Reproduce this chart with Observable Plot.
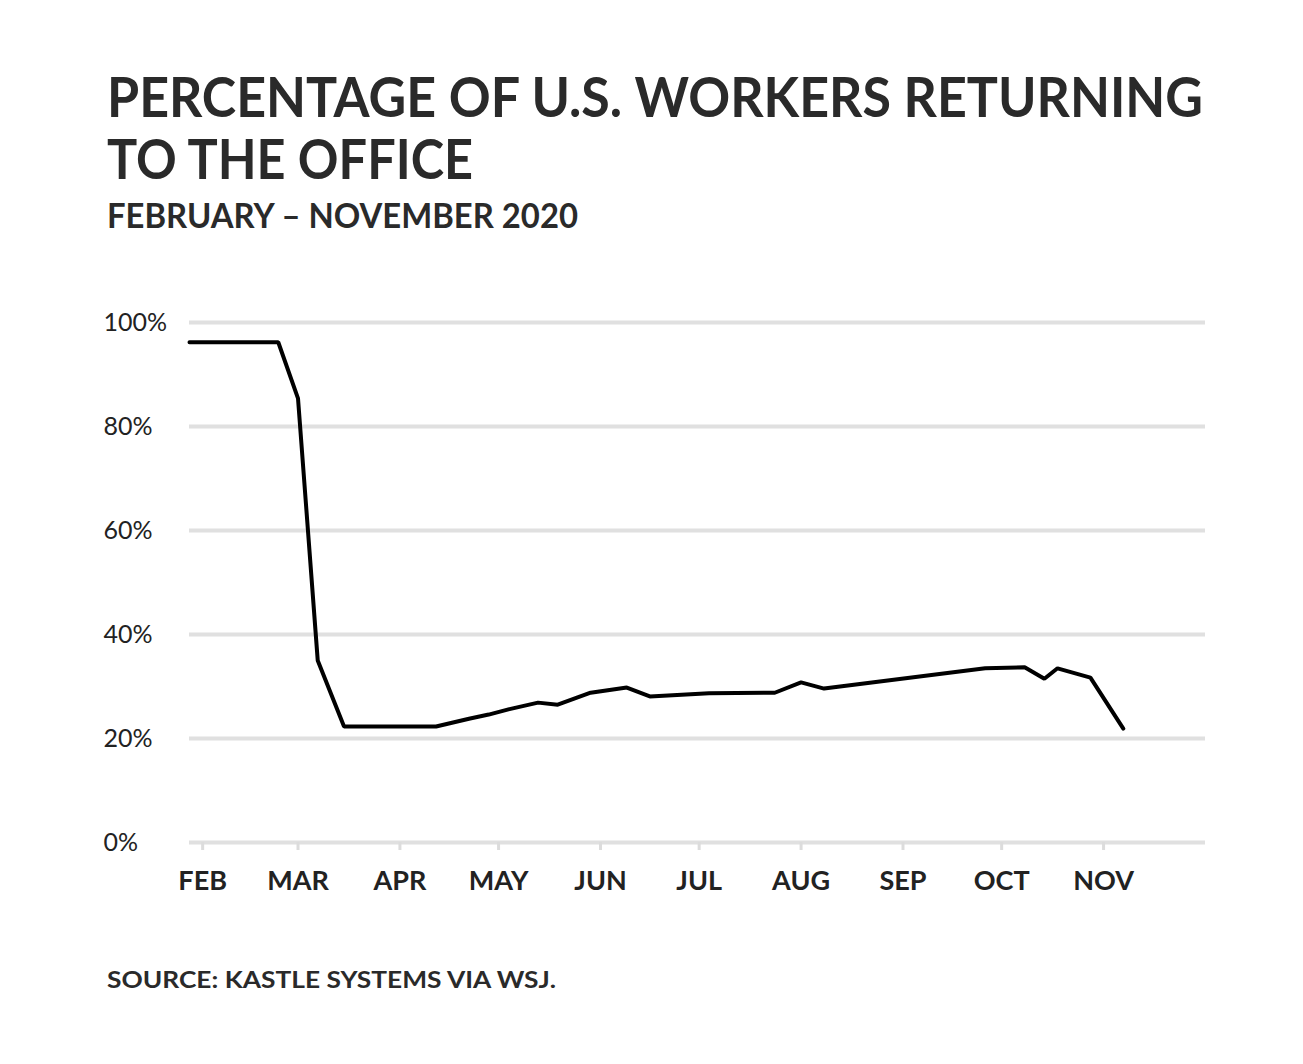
<!DOCTYPE html>
<html><head><meta charset="utf-8">
<script src="https://cdn.jsdelivr.net/npm/d3@7"></script>
<script src="https://cdn.jsdelivr.net/npm/@observablehq/plot@0.6"></script>
<style>
body{margin:0;background:#fff;width:1303px;height:1064px;overflow:hidden;font-family:Lato,sans-serif;color:#2a2a2a;position:relative}
.t{position:absolute;left:107px;white-space:nowrap;transform-origin:0 0;font-weight:700;line-height:1;display:inline-block}
#chart{position:absolute;left:0;top:260px}
</style></head><body>
<div class="t" id="t1" style="top:69px;font-size:55px" data-w="1096">PERCENTAGE OF U.S. WORKERS RETURNING</div>
<div class="t" id="t2" style="top:131px;font-size:55px" data-w="366">TO THE OFFICE</div>
<div class="t" id="sub" style="top:197px;font-size:35px" data-w="471">FEBRUARY – NOVEMBER 2020</div>
<div id="chart"></div>
<div class="t" id="src" style="top:969px;font-size:22px" data-w="449">SOURCE: KASTLE SYSTEMS VIA WSJ.</div>
<script>
const dates = ["2020-01-28","2020-02-24","2020-03-01","2020-03-07","2020-03-15","2020-04-12","2020-04-22","2020-04-28","2020-05-04","2020-05-13","2020-05-19","2020-05-29","2020-06-09","2020-06-16","2020-07-04","2020-07-24","2020-08-01","2020-08-08","2020-09-26","2020-10-08","2020-10-14","2020-10-18","2020-10-28","2020-11-07"];
const values = [96.2,96.2,85.4,35.0,22.3,22.3,23.8,24.6,25.6,26.9,26.5,28.8,29.8,28.1,28.7,28.8,30.8,29.6,33.5,33.7,31.5,33.5,31.7,21.9];
const yTicks = [0,20,40,60,80,100];
const monthTicks = ["2020-02-01","2020-03-01","2020-04-01","2020-05-01","2020-06-01","2020-07-01","2020-08-01","2020-09-01","2020-10-01","2020-11-01"];
const monthLabels = ["FEB","MAR","APR","MAY","JUN","JUL","AUG","SEP","OCT","NOV"];

const data = dates.map((d, i) => ({date: new Date(d), value: values[i]}));
const tickDates = monthTicks.map(d => new Date(d));

const chart = Plot.plot({
  width: 1303, height: 680,
  marginLeft: 189, marginRight: 98, marginTop: 62, marginBottom: 98,
  style: {fontFamily: "Lato, sans-serif", color: "#222", background: "transparent"},
  x: {type: "utc", domain: [new Date("2020-01-28"), new Date("2020-12-02")]},
  y: {domain: [0, 100]},
  marks: [
    Plot.ruleY(yTicks, {stroke: "#e0e0e0", strokeWidth: 4}),
    Plot.axisX({ticks: tickDates, tickFormat: d => monthLabels[tickDates.findIndex(t => +t === +d)],
      tickSize: 8, tickPadding: 20, stroke: "#dcdcdc", strokeWidth: 3, fill: "#222",
      fontSize: 27, fontWeight: 700, label: null}),
    Plot.axisY({ticks: yTicks, tickFormat: d => d + "%", tickSize: 0, textAnchor: "start", dx: -77,
      fill: "#222", fontSize: 25, label: null}),
    Plot.lineY(data, {x: "date", y: "value", stroke: "#000", strokeWidth: 4, strokeLinejoin: "miter"})
  ]
});
document.getElementById("chart").appendChild(chart);

document.querySelectorAll(".t").forEach(el => {
  const w = el.getBoundingClientRect().width;
  const target = +el.dataset.w;
  el.style.transform = `scaleX(${target / w})`;
});
</script>
</body></html>
